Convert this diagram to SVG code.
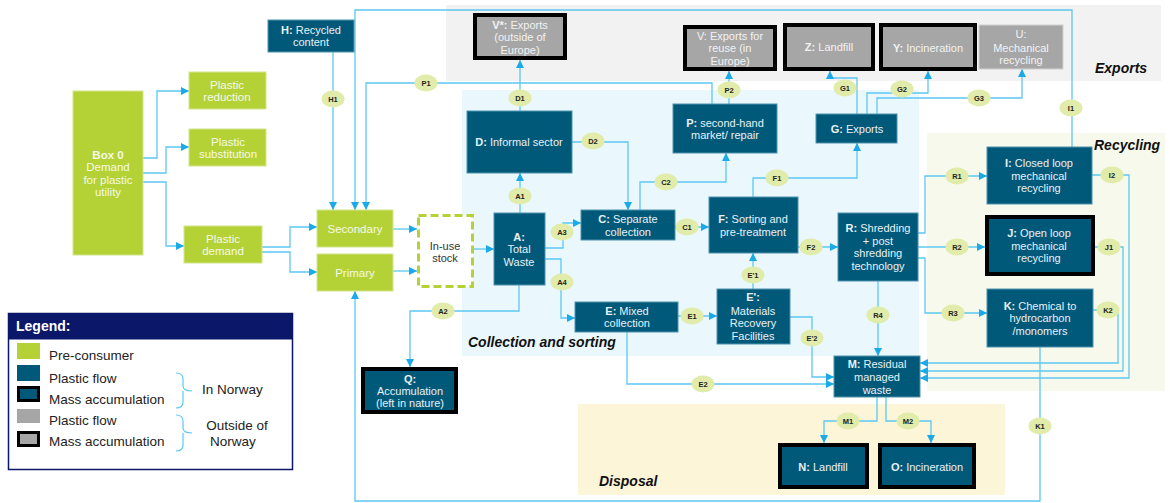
<svg xmlns="http://www.w3.org/2000/svg" width="1170" height="503" viewBox="0 0 1170 503">
  <style>
    text { font-family: "Liberation Sans", Arial, sans-serif; }
    .t { font-size: 11px; fill: #e9f1f5; text-anchor: middle; }
    .tg { font-size: 11.5px; fill: #f4f8e8; text-anchor: middle; }
    .tx { font-size: 11px; fill: #f2f2f2; text-anchor: middle; }
    .b { font-weight: bold; }
    .teal { fill: #01597a; stroke: #4f93ad; stroke-width: 1; }
    .green { fill: #b4d236; stroke: #d3e58c; stroke-width: 1; }
    .gray { fill: #a6a6a6; stroke: #d0d0d0; stroke-width: 1; }
    .thick { stroke: #000; stroke-width: 4; }
    .line { fill: none; stroke: #5cc8f2; stroke-width: 1.3; }
    .arr { marker-end: url(#arrow); }
    .lbl ellipse { fill: #e1ebaa; }
    .lbl text { font-size: 7.5px; font-weight: bold; fill: #222; text-anchor: middle; }
    .region { font-size: 14px; font-weight: bold; font-style: italic; fill: #111; }
    .leg { font-size: 13.5px; fill: #222; }
  </style>
  <defs>
    <marker id="arrow" viewBox="0 0 10 10" refX="10" refY="5" markerWidth="8" markerHeight="8" markerUnits="userSpaceOnUse" orient="auto">
      <path d="M0,0 L10,5 L0,10 z" fill="#1ba9e8"/>
    </marker>
  </defs>

  <rect width="1170" height="503" fill="#ffffff"/>

  <!-- background areas -->
  <g id="areas">
    <rect x="446" y="5" width="715" height="76" fill="#f2f2f2"/>
    <rect x="462" y="90" width="457" height="266" fill="#eaf8fd"/>
    <rect x="927" y="133" width="238" height="258" fill="#f7f9ec"/>
    <rect x="578" y="404" width="427" height="91" fill="#fdf5d8"/>
    <text class="region" x="1095" y="73">Exports</text>
    <text class="region" x="1094" y="150">Recycling</text>
    <text class="region" x="468" y="347">Collection and sorting</text>
    <text class="region" x="599" y="486">Disposal</text>
  </g>

  <!-- connectors -->
  <g id="connectors">
    <path class="line arr" d="M143,158 H157 V91 H189"/>
    <path class="line arr" d="M143,173 H166 V147 H189"/>
    <path class="line arr" d="M143,182 H166 V246 H184"/>
    <path class="line arr" d="M262,247 H290 V227 H317"/>
    <path class="line arr" d="M262,252 H290 V272 H317"/>
    <path class="line arr" d="M393,229 H417"/>
    <path class="line arr" d="M393,271 H417"/>
    <path class="line arr" d="M474,249 H494"/>
    <path class="line arr" d="M333,52 V210"/>
    <path class="line arr" d="M1072,147 V10 H355 V210"/>
    <path class="line arr" d="M712,104 V83 H366 V210"/>
    <path class="line arr" d="M520,213 V173"/>
    <path class="line arr" d="M520,111 V60"/>
    <path class="line arr" d="M572,142 H628 V210"/>
    <path class="line arr" d="M640,210 V182 H726 V153"/>
    <path class="line arr" d="M729,104 V71"/>
    <path class="line arr" d="M545,248 H563 V223 H581"/>
    <path class="line arr" d="M545,259 H561 V318 H575"/>
    <path class="line arr" d="M519,285 V311 H410 V367"/>
    <path class="line arr" d="M675,227 H709"/>
    <path class="line arr" d="M678,316 H717"/>
    <path class="line arr" d="M753,289 V253"/>
    <path class="line arr" d="M753,197 V178 H857 V143"/>
    <path class="line arr" d="M798,247 H838"/>
    <path class="line arr" d="M857,114 V78 H830 V71"/>
    <path class="line arr" d="M867,114 V93 H928 V71"/>
    <path class="line arr" d="M877,114 V98 H1022 V69"/>
    <path class="line arr" d="M918,233 H925 V176 H987"/>
    <path class="line arr" d="M918,247 H985"/>
    <path class="line arr" d="M918,258 H925 V313 H987"/>
    <path class="line arr" d="M878,281 V356"/>
    <path class="line arr" d="M1092,175 H1129 V378 H920"/>
    <path class="line arr" d="M1095,247 H1123 V371 H920"/>
    <path class="line arr" d="M1093,310 H1118 V363 H920"/>
    <path class="line arr" d="M1040,347 V501 H355 V291"/>
    <path class="line arr" d="M627,332 V384 H834"/>
    <path class="line arr" d="M790,317 H812 V377 H834"/>
    <path class="line arr" d="M877,397 V421 H824 V443"/>
    <path class="line arr" d="M886,397 V421 H931 V443"/>

    <g class="lbl">
      <ellipse cx="333" cy="99" rx="11.5" ry="8.5"/><text x="333" y="101.6">H1</text>
      <ellipse cx="1071" cy="108" rx="11.5" ry="8.5"/><text x="1071" y="110.6">I1</text>
      <ellipse cx="426" cy="83" rx="11.5" ry="8.5"/><text x="426" y="85.6">P1</text>
      <ellipse cx="520" cy="196" rx="11.5" ry="8.5"/><text x="520" y="198.6">A1</text>
      <ellipse cx="520" cy="98" rx="11.5" ry="8.5"/><text x="520" y="100.6">D1</text>
      <ellipse cx="593" cy="141" rx="11.5" ry="8.5"/><text x="593" y="143.6">D2</text>
      <ellipse cx="666" cy="182" rx="11.5" ry="8.5"/><text x="666" y="184.6">C2</text>
      <ellipse cx="729" cy="90" rx="11.5" ry="8.5"/><text x="729" y="92.6">P2</text>
      <ellipse cx="562" cy="232" rx="11.5" ry="8.5"/><text x="562" y="234.6">A3</text>
      <ellipse cx="562" cy="282" rx="11.5" ry="8.5"/><text x="562" y="284.6">A4</text>
      <ellipse cx="443" cy="311" rx="11.5" ry="8.5"/><text x="443" y="313.6">A2</text>
      <ellipse cx="687" cy="227" rx="11.5" ry="8.5"/><text x="687" y="229.6">C1</text>
      <ellipse cx="692" cy="316" rx="11.5" ry="8.5"/><text x="692" y="318.6">E1</text>
      <ellipse cx="753" cy="275" rx="11.5" ry="8.5"/><text x="753" y="277.6">E'1</text>
      <ellipse cx="777" cy="178" rx="11.5" ry="8.5"/><text x="777" y="180.6">F1</text>
      <ellipse cx="811" cy="247" rx="11.5" ry="8.5"/><text x="811" y="249.6">F2</text>
      <ellipse cx="845" cy="88" rx="11.5" ry="8.5"/><text x="845" y="90.6">G1</text>
      <ellipse cx="902" cy="89" rx="11.5" ry="8.5"/><text x="902" y="91.6">G2</text>
      <ellipse cx="979" cy="98" rx="11.5" ry="8.5"/><text x="979" y="100.6">G3</text>
      <ellipse cx="957" cy="176" rx="11.5" ry="8.5"/><text x="957" y="178.6">R1</text>
      <ellipse cx="957" cy="247" rx="11.5" ry="8.5"/><text x="957" y="249.6">R2</text>
      <ellipse cx="953" cy="313" rx="11.5" ry="8.5"/><text x="953" y="315.6">R3</text>
      <ellipse cx="878" cy="315" rx="11.5" ry="8.5"/><text x="878" y="317.6">R4</text>
      <ellipse cx="1112" cy="175" rx="11.5" ry="8.5"/><text x="1112" y="177.6">I2</text>
      <ellipse cx="1109" cy="247" rx="11.5" ry="8.5"/><text x="1109" y="249.6">J1</text>
      <ellipse cx="1108" cy="310" rx="11.5" ry="8.5"/><text x="1108" y="312.6">K2</text>
      <ellipse cx="1040" cy="426" rx="11.5" ry="8.5"/><text x="1040" y="428.6">K1</text>
      <ellipse cx="703" cy="384" rx="11.5" ry="8.5"/><text x="703" y="386.6">E2</text>
      <ellipse cx="812" cy="338" rx="11.5" ry="8.5"/><text x="812" y="340.6">E'2</text>
      <ellipse cx="848" cy="421" rx="11.5" ry="8.5"/><text x="848" y="423.6">M1</text>
      <ellipse cx="908" cy="421" rx="11.5" ry="8.5"/><text x="908" y="423.6">M2</text>
    </g>
  </g>

  <!-- pre-consumer nodes -->
  <g id="box0">
    <rect class="green" x="73" y="91" width="70" height="164"/>
    <text class="tg" x="108" y="159"><tspan class="b">Box 0</tspan></text>
    <text class="tg" x="108" y="171">Demand</text>
    <text class="tg" x="108" y="184">for plastic</text>
    <text class="tg" x="108" y="196">utility</text>
  </g>
  <g id="plastic-reduction">
    <rect class="green" x="189" y="72" width="77" height="37"/>
    <text class="tg" x="227" y="89">Plastic</text>
    <text class="tg" x="227" y="101">reduction</text>
  </g>
  <g id="plastic-substitution">
    <rect class="green" x="189" y="129" width="77" height="37"/>
    <text class="tg" x="228" y="146">Plastic</text>
    <text class="tg" x="228" y="158">substitution</text>
  </g>
  <g id="plastic-demand">
    <rect class="green" x="184" y="226" width="78" height="37"/>
    <text class="tg" x="223" y="243">Plastic</text>
    <text class="tg" x="223" y="255">demand</text>
  </g>
  <g id="secondary">
    <rect class="green" x="317" y="210" width="76" height="37"/>
    <text class="tg" x="355" y="233">Secondary</text>
  </g>
  <g id="primary">
    <rect class="green" x="317" y="254" width="76" height="37"/>
    <text class="tg" x="355" y="277">Primary</text>
  </g>
  <g id="in-use-stock">
    <rect x="418.5" y="215.5" width="54" height="71" fill="#ffffff" stroke="#b4d236" stroke-width="3" stroke-dasharray="8,4"/>
    <text x="445" y="250" font-size="11" fill="#333" text-anchor="middle">In-use</text>
    <text x="445" y="262" font-size="11" fill="#333" text-anchor="middle">stock</text>
  </g>
  <g id="h-recycled-content">
    <rect class="teal" x="268" y="20" width="86" height="32"/>
    <text class="t" x="311" y="34"><tspan class="b">H:</tspan> Recycled</text>
    <text class="t" x="311" y="46">content</text>
  </g>

  <!-- collection and sorting -->
  <g id="a-total-waste">
    <rect class="teal" x="494" y="213" width="51" height="72"/>
    <text class="t" x="519" y="241"><tspan class="b">A:</tspan></text>
    <text class="t" x="519" y="253">Total</text>
    <text class="t" x="519" y="266">Waste</text>
  </g>
  <g id="d-informal-sector">
    <rect class="teal" x="467" y="111" width="105" height="62"/>
    <text class="t" x="519" y="146"><tspan class="b">D:</tspan> Informal sector</text>
  </g>
  <g id="c-separate-collection">
    <rect class="teal" x="581" y="210" width="94" height="30"/>
    <text class="t" x="628" y="223"><tspan class="b">C:</tspan> Separate</text>
    <text class="t" x="628" y="236">collection</text>
  </g>
  <g id="e-mixed-collection">
    <rect class="teal" x="575" y="302" width="103" height="30"/>
    <text class="t" x="627" y="315"><tspan class="b">E:</tspan> Mixed</text>
    <text class="t" x="627" y="327">collection</text>
  </g>
  <g id="f-sorting">
    <rect class="teal" x="709" y="197" width="89" height="56"/>
    <text class="t" x="753" y="223"><tspan class="b">F:</tspan> Sorting and</text>
    <text class="t" x="753" y="236">pre-treatment</text>
  </g>
  <g id="e-prime-mrf">
    <rect class="teal" x="717" y="289" width="73" height="55"/>
    <text class="t" x="753" y="301"><tspan class="b">E':</tspan></text>
    <text class="t" x="753" y="315">Materials</text>
    <text class="t" x="753" y="327">Recovery</text>
    <text class="t" x="753" y="340">Facilities</text>
  </g>
  <g id="r-shredding">
    <rect class="teal" x="838" y="213" width="80" height="68"/>
    <text class="t" x="878" y="232"><tspan class="b">R:</tspan> Shredding</text>
    <text class="t" x="878" y="245">+ post</text>
    <text class="t" x="878" y="257">shredding</text>
    <text class="t" x="878" y="270">technology</text>
  </g>
  <g id="p-second-hand">
    <rect class="teal" x="673" y="104" width="104" height="49"/>
    <text class="t" x="725" y="127"><tspan class="b">P:</tspan> second-hand</text>
    <text class="t" x="725" y="139">market/ repair</text>
  </g>
  <g id="g-exports">
    <rect class="teal" x="816" y="114" width="81" height="29"/>
    <text class="t" x="857" y="133"><tspan class="b">G:</tspan> Exports</text>
  </g>

  <!-- exports -->
  <g id="v-star-exports">
    <rect class="gray thick" x="475" y="15" width="90" height="43"/>
    <text class="tx" x="520" y="29"><tspan class="b">V*:</tspan> Exports</text>
    <text class="tx" x="520" y="41">(outside of</text>
    <text class="tx" x="520" y="54">Europe)</text>
  </g>
  <g id="v-exports-reuse">
    <rect class="gray thick" x="685" y="27" width="90" height="42"/>
    <text class="tx" x="730" y="40">V: Exports for</text>
    <text class="tx" x="730" y="52">reuse (in</text>
    <text class="tx" x="730" y="65">Europe)</text>
  </g>
  <g id="z-landfill">
    <rect class="gray thick" x="785" y="25" width="88" height="44"/>
    <text class="tx" x="829" y="51"><tspan class="b">Z:</tspan> Landfill</text>
  </g>
  <g id="y-incineration">
    <rect class="gray thick" x="881" y="25" width="94" height="44"/>
    <text class="tx" x="928" y="52"><tspan class="b">Y:</tspan> Incineration</text>
  </g>
  <g id="u-mechanical-recycling">
    <rect class="gray" x="979" y="25" width="84" height="44"/>
    <text class="tx" x="1021" y="38">U:</text>
    <text class="tx" x="1021" y="52">Mechanical</text>
    <text class="tx" x="1021" y="64">recycling</text>
  </g>

  <!-- recycling -->
  <g id="i-closed-loop">
    <rect class="teal" x="987" y="147" width="105" height="57"/>
    <text class="t" x="1039" y="167"><tspan class="b">I:</tspan> Closed loop</text>
    <text class="t" x="1039" y="180">mechanical</text>
    <text class="t" x="1039" y="192">recycling</text>
  </g>
  <g id="j-open-loop">
    <rect class="teal thick" x="987" y="217" width="106" height="57"/>
    <text class="t" x="1039" y="237"><tspan class="b">J:</tspan> Open loop</text>
    <text class="t" x="1039" y="250">mechanical</text>
    <text class="t" x="1039" y="262">recycling</text>
  </g>
  <g id="k-chemical">
    <rect class="teal" x="987" y="289" width="106" height="58"/>
    <text class="t" x="1040" y="310"><tspan class="b">K:</tspan> Chemical to</text>
    <text class="t" x="1040" y="322">hydrocarbon</text>
    <text class="t" x="1040" y="335">/monomers</text>
  </g>

  <!-- residual and disposal -->
  <g id="m-residual">
    <rect class="teal" x="834" y="356" width="86" height="41"/>
    <text class="t" x="877" y="368"><tspan class="b">M:</tspan> Residual</text>
    <text class="t" x="877" y="381">managed</text>
    <text class="t" x="877" y="394">waste</text>
  </g>
  <g id="n-landfill">
    <rect class="teal thick" x="780" y="445" width="87" height="42"/>
    <text class="t" x="823" y="471"><tspan class="b">N:</tspan> Landfill</text>
  </g>
  <g id="o-incineration">
    <rect class="teal thick" x="880" y="445" width="94" height="42"/>
    <text class="t" x="927" y="471"><tspan class="b">O:</tspan> Incineration</text>
  </g>
  <g id="q-accumulation">
    <rect class="teal thick" x="363" y="369" width="93" height="43"/>
    <text class="t" x="410" y="383" font-size="10.5"><tspan class="b">Q:</tspan></text>
    <text class="t" x="410" y="395" font-size="10.5">Accumulation</text>
    <text class="t" x="410" y="407" font-size="10.5">(left in nature)</text>
  </g>

  <!-- legend -->
  <g id="legend">
    <rect x="8.5" y="313.5" width="284" height="156" fill="#ffffff" stroke="#0b1769" stroke-width="1.5"/>
    <rect x="8.5" y="313.5" width="284" height="26" fill="#0b1769"/>
    <text x="16" y="331" font-size="14" font-weight="bold" fill="#ffffff">Legend:</text>
    <rect x="17" y="343" width="23" height="16" fill="#b4d236"/>
    <text class="leg" x="49" y="360">Pre-consumer</text>
    <rect x="17" y="365" width="23" height="16" fill="#01597a"/>
    <text class="leg" x="49" y="383">Plastic flow</text>
    <rect x="18.5" y="387.5" width="20" height="13" fill="#01597a" stroke="#000" stroke-width="3"/>
    <text class="leg" x="49" y="404">Mass accumulation</text>
    <rect x="17" y="409" width="23" height="14" fill="#a6a6a6"/>
    <text class="leg" x="49" y="425">Plastic flow</text>
    <rect x="18.5" y="432.5" width="20" height="13" fill="#a6a6a6" stroke="#000" stroke-width="3"/>
    <text class="leg" x="49" y="446">Mass accumulation</text>
    <path d="M176,373 Q183,373 183,379 V386 Q183,391 192,391 M183,391 Q183,396 183,397 V402 Q183,408 176,408" fill="none" stroke="#5cc8f2" stroke-width="1.2"/>
    <path d="M176,415 Q183,415 183,421 V428 Q183,433 192,433 M183,433 Q183,438 183,439 V445 Q183,451 176,451" fill="none" stroke="#5cc8f2" stroke-width="1.2"/>
    <text class="leg" x="202" y="394">In Norway</text>
    <text class="leg" x="237" y="430" text-anchor="middle">Outside of</text>
    <text class="leg" x="233" y="446" text-anchor="middle">Norway</text>
  </g>
</svg>
